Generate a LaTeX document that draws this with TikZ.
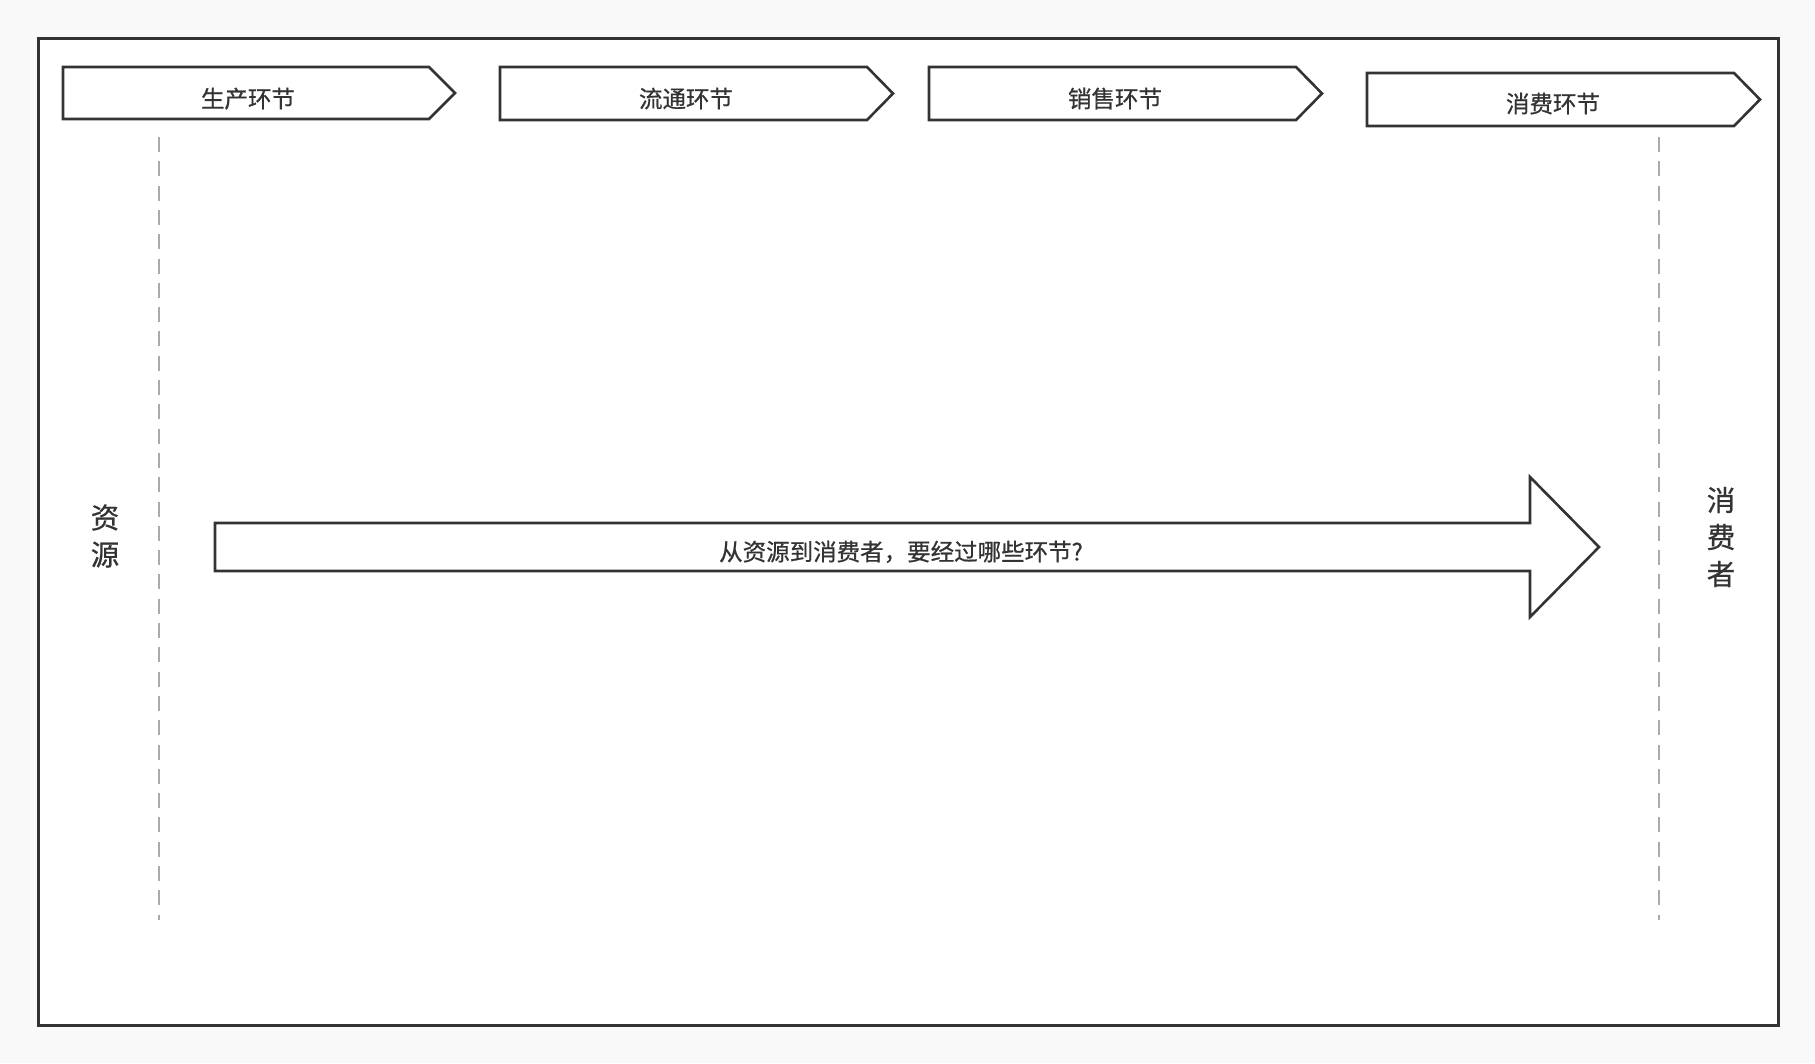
\documentclass[tikz,border=0pt]{standalone}
\usepackage{fontspec}
\setmainfont{Noto Sans CJK SC}
\newfontfamily\medfont{Noto Sans CJK SC}[FakeBold=0.7]
\definecolor{ink}{HTML}{333333}
\definecolor{dashgray}{HTML}{AAAAAA}
\definecolor{bggray}{HTML}{F9F9F9}
\begin{document}
\begin{tikzpicture}[x=1pt,y=-1pt,
  frame/.style={draw=ink,line width=3pt,fill=white},
  stagebox/.style={draw=ink,line width=2.6pt,fill=white,line join=miter},
  stagelabel/.style={anchor=base,text=ink,inner sep=0pt,font=\medfont\fontsize{23.5}{28}\selectfont},
  sidelabel/.style={anchor=center,text=ink,inner sep=0pt,align=center,font=\medfont\fontsize{28.5}{37}\selectfont},
  guide/.style={draw=dashgray,line width=1.8pt,dash pattern=on 15pt off 9.3pt}]
% background
\fill[bggray] (0,0) rectangle (1815,1063);
\useasboundingbox (0,0) rectangle (1815,1063);
\draw[frame] (38,38) rectangle (1778,1025);
% stage arrows
\draw[stagebox] (63,67) -- (429,67) -- (455,93) -- (429,119) -- (63,119) -- cycle;
\draw[stagebox] (500,67) -- (867,67) -- (893,93.5) -- (867,120) -- (500,120) -- cycle;
\draw[stagebox] (929,67) -- (1296,67) -- (1322,93.5) -- (1296,120) -- (929,120) -- cycle;
\draw[stagebox] (1367,73) -- (1734,73) -- (1760,99.5) -- (1734,126) -- (1367,126) -- cycle;
\node[stagelabel] (s1) at (248,107.5) {生产环节};
\node[stagelabel] (s2) at (686,107.5) {流通环节};
\node[stagelabel] (s3) at (1115,107.5) {销售环节};
\node[stagelabel] (s4) at (1553,112.5) {消费环节};
% guides
\coordinate (g1a) at (159,137);
\coordinate (g1b) at (159,920);
\coordinate (g2a) at (1659,137);
\coordinate (g2b) at (1659,920);
\draw[guide] (g1a) -- (g1b);
\draw[guide] (g2a) -- (g2b);
% big arrow
\draw[stagebox] (215,523) -- (1530,523) -- (1530,477) -- (1599,547) -- (1530,617) -- (1530,571) -- (215,571) -- cycle;
\node[stagelabel] (q) at (901,560.5) {从资源到消费者，要经过哪些环节?};
% side labels
\node[sidelabel] (src) at (105,536) {资\\源};
\node[sidelabel] (dst) at (1721,537) {消\\费\\者};
\end{tikzpicture}
\end{document}
